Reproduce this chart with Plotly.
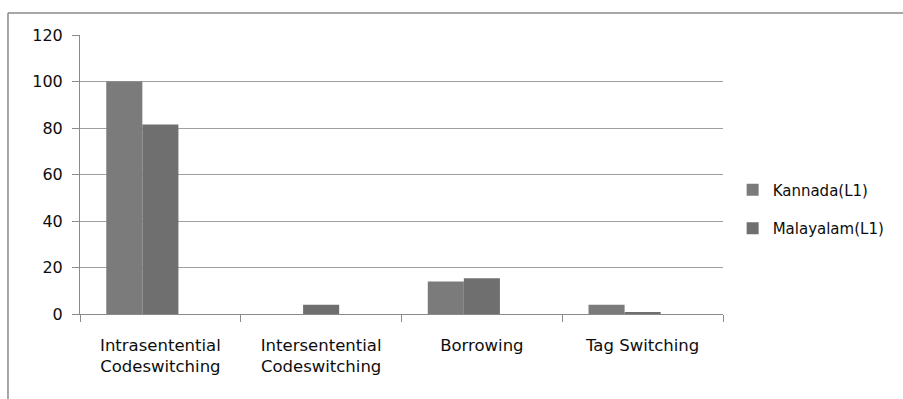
import plotly.graph_objects as go

categories = ["Intrasentential<br>Codeswitching", "Intersentential<br>Codeswitching",
              "Borrowing", "Tag Switching"]
kannada = [100, 0, 14, 4]
malayalam = [81.5, 4, 15.4, 0.8]
empty_series = [None, None, None, None]
y_ticks = [0, 20, 40, 60, 80, 100, 120]

font_family = "'DejaVu Sans', sans-serif"
grid_col = "#a0a0a0"
axis_col = "#8a8a8a"

fig = go.Figure()
fig.add_trace(go.Bar(x=categories, y=kannada, name="Kannada(L1)",
                     marker=dict(color="#7b7b7b", line=dict(width=0)),
                     legendgroup="k"))
fig.add_trace(go.Bar(x=categories, y=malayalam, name="Malayalam(L1)",
                     marker=dict(color="#6f6f6f", line=dict(width=0)),
                     legendgroup="m"))
# third (empty) series keeps the Excel-style three-slot grouping
fig.add_trace(go.Bar(x=categories, y=empty_series, name="", showlegend=False,
                     marker=dict(color="#888888")))

fig.update_layout(
    width=903, height=399,
    margin=dict(l=80, r=180, t=35, b=85),
    paper_bgcolor="white", plot_bgcolor="white",
    barmode="group", bargap=0.327, bargroupgap=0,
    font=dict(family=font_family, size=16, color="#0d0d0d"),
    legend=dict(x=1.015, y=0.376, xanchor="left", yanchor="middle",
                font=dict(size=15), tracegroupgap=16,
                itemwidth=30, bgcolor="rgba(0,0,0,0)"),
    xaxis=dict(showline=True, linecolor=axis_col, linewidth=1,
               ticks="outside", tickson="boundaries", ticklen=7,
               tickcolor=axis_col, showgrid=False,
               tickfont=dict(size=16.5), ticklabelstandoff=16),
    yaxis=dict(range=[0, 120], tickvals=y_ticks, showline=True,
               linecolor=axis_col, linewidth=1, ticks="outside",
               ticklen=7, tickcolor=axis_col, showgrid=True,
               gridcolor=grid_col, gridwidth=1, zeroline=False,
               tickfont=dict(size=16), ticklabelstandoff=6),
    shapes=[
        # outer chart-area border (top and left edges)
        dict(type="line", xref="paper", yref="paper",
             x0=-0.112, x1=1.5, y0=1.079, y1=1.079,
             line=dict(color="#8a8a8a", width=1.5)),
        dict(type="line", xref="paper", yref="paper",
             x0=-0.112, x1=-0.112, y0=1.079, y1=-0.4,
             line=dict(color="#8a8a8a", width=1.5)),
    ],
)

fig.write_html("out.html")
